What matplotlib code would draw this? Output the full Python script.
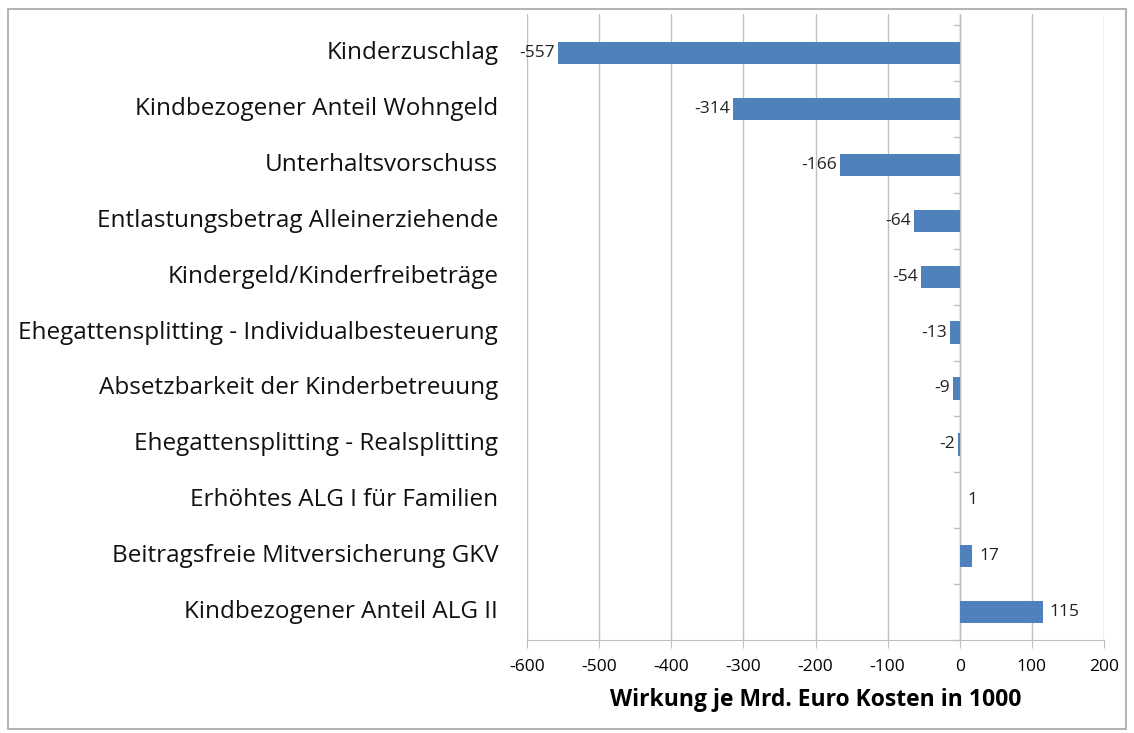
"""Wirkung familienbezogener Leistungen je Mrd. Euro Kosten."""
import matplotlib.pyplot as plt
import numpy as np

categories = ['Kinderzuschlag',
              'Kindbezogener Anteil Wohngeld',
              'Unterhaltsvorschuss',
              'Entlastungsbetrag Alleinerziehende',
              'Kindergeld/Kinderfreibeträge',
              'Ehegattensplitting - Individualbesteuerung',
              'Absetzbarkeit der Kinderbetreuung',
              'Ehegattensplitting - Realsplitting',
              'Erhöhtes ALG I für Familien',
              'Beitragsfreie Mitversicherung GKV',
              'Kindbezogener Anteil ALG II']
values = [-557, -314, -166, -64, -54, -13, -9, -2, 1, 17, 115]
xticks = [-600, -500, -400, -300, -200, -100, 0, 100, 200]

plt.rcParams['font.family'] = ['Open Sans', 'DejaVu Sans']
grey = '#bfbfbf'

fig = plt.figure(figsize=(11.34, 7.33), dpi=100)
ax = fig.add_axes([527 / 1134, 93 / 733, 577 / 1134, 626 / 733])

# Rahmen um die ganze Grafik
fig.patches.append(plt.Rectangle((8 / 1134, 4 / 733), 1118 / 1134, 720 / 733,
                                 transform=fig.transFigure, fill=False,
                                 edgecolor='#a6a6a6', linewidth=1.2))

y = np.arange(len(categories))
ax.barh(y, values, height=0.4, color='#4f81bd', zorder=3)

for yi, v in zip(y, values):
    if v < 0:
        ax.text(v - 4, yi, str(v), ha='right', va='center', fontsize=12.5,
                color='#222222')
    else:
        ax.text(v + 10, yi, str(v), ha='left', va='center', fontsize=12.5,
                color='#222222')

ax.set_xlim(-600, 200)
ax.set_ylim(len(categories) - 0.5, -0.7)
ax.set_xticks(xticks)
ax.set_xticklabels([str(t) for t in xticks], fontsize=12.5)
ax.tick_params(axis='x', length=6, color=grey, pad=8)
ax.set_yticks([])
for yi, c in zip(y, categories):
    ax.text(-0.05, yi, c, transform=ax.get_yaxis_transform(), ha='right',
            va='center', fontsize=17.5, color='#111111')

ax.grid(axis='x', color=grey, linewidth=1, zorder=0)
for s in ['top', 'right', 'left']:
    ax.spines[s].set_visible(False)
ax.spines['bottom'].set_color(grey)

# y-Achse bei 0 mit Teilstrichen zwischen den Kategorien
ax.axvline(0, color=grey, linewidth=1, zorder=2)
for b in np.arange(-0.5, len(categories), 1.0):
    ax.plot([-8, 0], [b, b], color=grey, linewidth=1, zorder=2,
            clip_on=False)

ax.set_xlabel('Wirkung je Mrd. Euro Kosten in 1000', fontsize=16.5,
              fontweight='bold', labelpad=9)

plt.savefig('out.png', dpi=100)
